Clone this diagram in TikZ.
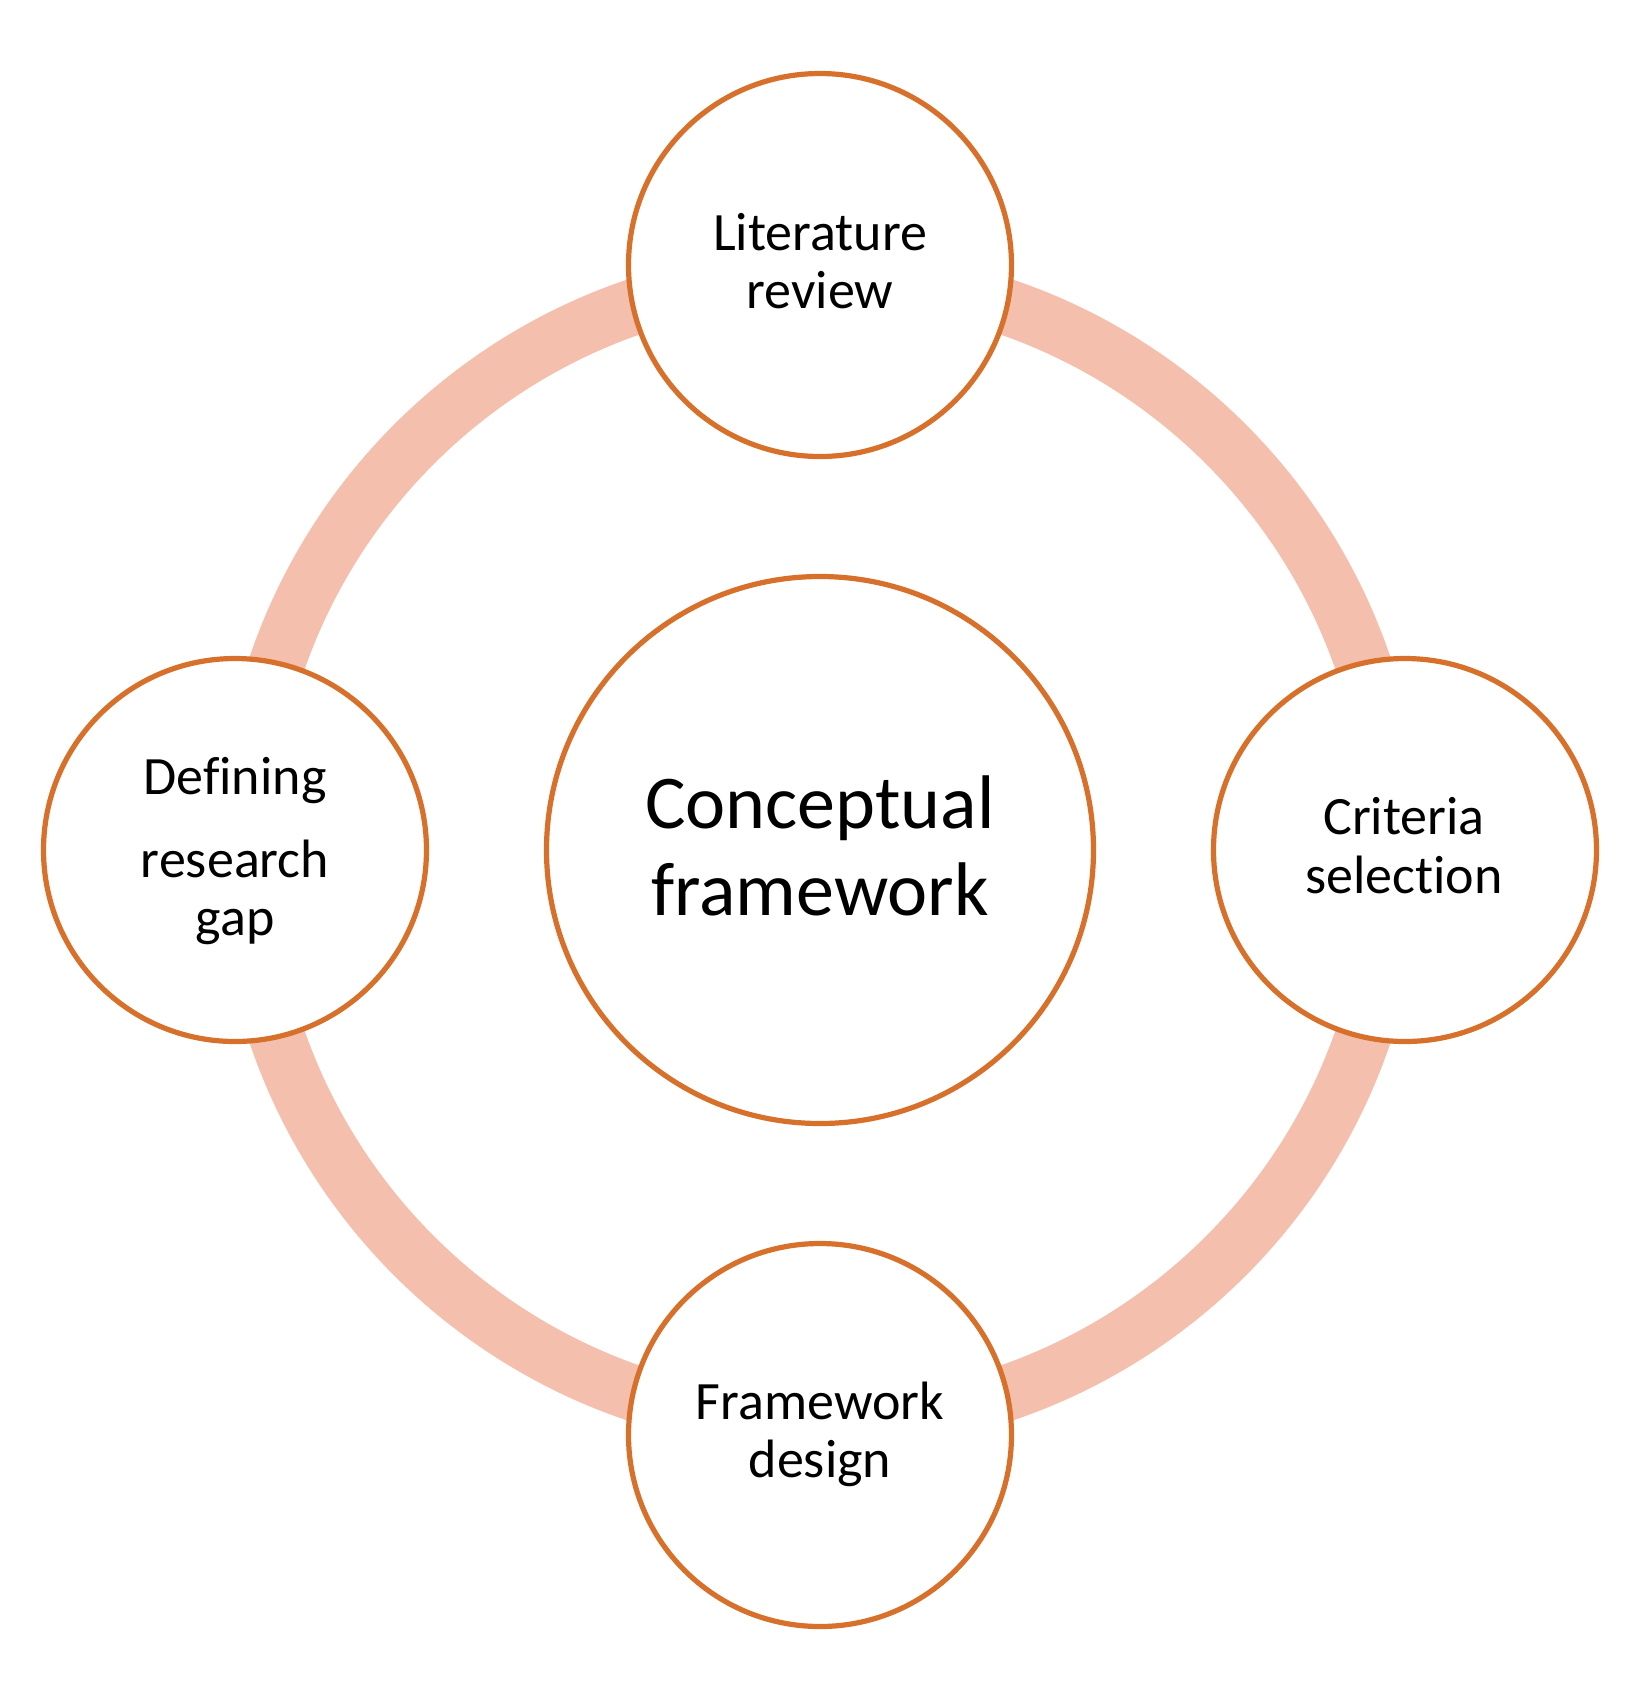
\documentclass[tikz,border=0pt]{standalone}
\usepackage{fontspec}
\setmainfont{Carlito}[Ligatures={NoCommon}]
\definecolor{ringc}{RGB}{244,192,173}
\definecolor{edgec}{RGB}{214,112,42}
\begin{document}
\begin{tikzpicture}[x=0.5pt,y=-0.5pt,
  stepcirc/.style={circle, draw=edgec, line width=2.6pt, fill=white, inner sep=0pt, outer sep=0pt, minimum size=191.5pt},
  maincirc/.style={circle, draw=edgec, line width=2.6pt, fill=white, inner sep=0pt, outer sep=0pt, minimum size=273.5pt},
  smalltxt/.style={anchor=base, inner sep=0pt, font=\fontsize{27pt}{32pt}\selectfont, text=black},
  bigtxt/.style={anchor=base, inner sep=0pt, font=\fontsize{38pt}{45pt}\selectfont, text=black},
  ringline/.style={draw=ringc, line width=28pt}
]
\useasboundingbox (0,0) rectangle (1648,1694);
\fill[white] (0,0) rectangle (1648,1694);
\coordinate (ctr) at (820,850);
\draw[ringline] (ctr) circle[radius=574];

\node[maincirc] (center) at (ctr) {};
\node[stepcirc] (lit) at (820,265) {};
\node[stepcirc] (crit) at (1405,850) {};
\node[stepcirc] (fw) at (820,1435) {};
\node[stepcirc] (gap) at (235,850) {};

\node[bigtxt] (c1) at (820,828) {Conceptual};
\node[bigtxt] (c2) at (820,915) {framework};

\node[smalltxt] (l1) at (820,250) {Literature};
\node[smalltxt] (l2) at (820,308) {review};

\node[smalltxt] (r1) at (1404,834) {Criteria};
\node[smalltxt] (r2) at (1404,893) {selection};

\node[smalltxt] (b1) at (820,1419) {Framework};
\node[smalltxt] (b2) at (820,1477) {design};

\node[smalltxt] (g1) at (235,794) {Defining};
\node[smalltxt] (g2) at (235,877) {research};
\node[smalltxt] (g3) at (235,935) {gap};
\end{tikzpicture}
\end{document}
